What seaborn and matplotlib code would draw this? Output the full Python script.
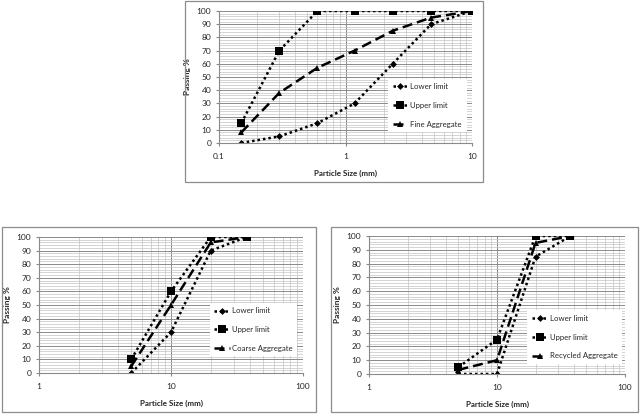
import numpy as np
import matplotlib
matplotlib.use("Agg")
import matplotlib.pyplot as plt
from matplotlib.patches import Rectangle
from matplotlib.ticker import MultipleLocator, LogLocator, NullFormatter, FixedLocator, FixedFormatter
import seaborn as sns

# ------------------------------------------------------------
# data
# ------------------------------------------------------------
fine_sizes = [0.15, 0.3, 0.6, 1.18, 2.36, 4.75, 10]
fine_lower = [0, 5, 15, 30, 60, 90, 100]
fine_upper = [15, 70, 100, 100, 100, 100, 100]
fine_agg = [8, 38, 57, 70, 85, 95, 100]

coarse_sizes = [5, 10, 20, 37.5]
coarse_lower = [0, 30, 90, 100]
coarse_upper = [10, 60, 100, 100]
coarse_agg = [5, 50, 96, 100]

rec_sizes = [5, 10, 20, 37.5]
rec_lower = [0, 0, 85, 100]
rec_upper = [5, 25, 100, 100]
rec_agg = [3, 10, 95, 100]

y_ticks = list(range(0, 101, 10))

sns.set_style("white")
plt.rcParams['font.family'] = ['Lato', 'DejaVu Sans']

W, H = 640, 415
fig = plt.figure(figsize=(W / 100, H / 100), dpi=100)


def px_axes(left, top, right, bottom):
    return fig.add_axes([left / W, 1 - bottom / H, (right - left) / W, (bottom - top) / H])


def frame(left, top, right, bottom):
    fig.add_artist(Rectangle((left / W, 1 - bottom / H), (right - left) / W, (bottom - top) / H,
                             transform=fig.transFigure, fill=False, edgecolor="#8c8c8c", lw=0.9))


def draw_panel(ax, sizes, lower, upper, agg, agg_label, xlim, xticks, legend_anchor):
    sns.lineplot(x=sizes, y=lower, ax=ax, color="black", linestyle=(0, (1, 1.2)), lw=1.8,
                 marker="D", markersize=3.5, markeredgewidth=0, label="Lower limit")
    sns.lineplot(x=sizes, y=upper, ax=ax, color="black", linestyle=(0, (1, 1.2)), lw=1.8,
                 marker="s", markersize=5.5, markeredgewidth=0, label="Upper limit")
    sns.lineplot(x=sizes, y=agg, ax=ax, color="black", linestyle=(0, (4, 2)), lw=1.8,
                 marker="^", markersize=5, markeredgewidth=0, label=agg_label)
    ax.set_xscale("log")
    ax.set_xlim(*xlim)
    ax.set_ylim(0, 100)
    ax.xaxis.set_major_locator(FixedLocator(xticks))
    ax.xaxis.set_major_formatter(FixedFormatter([f"{t:g}" for t in xticks]))
    ax.xaxis.set_minor_locator(LogLocator(base=10, subs=np.arange(2, 10)))
    ax.xaxis.set_minor_formatter(NullFormatter())
    ax.yaxis.set_major_locator(FixedLocator(y_ticks))
    ax.yaxis.set_minor_locator(MultipleLocator(2))
    ax.grid(which="major", color="#8a8a8a", lw=0.7)
    ax.grid(which="minor", color="#c4c4c4", lw=0.5)
    ax.set_axisbelow(True)
    for side in ["top", "right"]:
        ax.spines[side].set_visible(False)
    for side in ["left", "bottom"]:
        ax.spines[side].set_color("#8a8a8a")
        ax.spines[side].set_linewidth(0.8)
    ax.tick_params(axis="both", which="major", labelsize=6, length=2.5, color="#8a8a8a",
                   left=True, bottom=True, pad=3)
    ax.tick_params(axis="x", which="major", pad=5)
    ax.tick_params(axis="both", which="minor", length=0)
    ax.set_xlabel("Particle Size (mm)", fontsize=5.8, fontweight="bold", labelpad=7)
    ax.set_ylabel("Passing %", fontsize=6, fontweight="bold", labelpad=4)
    leg = ax.legend(loc="lower right", bbox_to_anchor=legend_anchor, fontsize=5.6,
                    frameon=True, fancybox=False, framealpha=1, edgecolor="white",
                    handlelength=2.0, labelspacing=1.5, numpoints=1, borderpad=0.6,
                    handletextpad=0.3, borderaxespad=0.2)
    leg.get_frame().set_linewidth(0)


# top panel - fine aggregate
frame(185, 1, 483, 182)
ax1 = px_axes(219, 11, 472, 143)
draw_panel(ax1, fine_sizes, fine_lower, fine_upper, fine_agg, "Fine Aggregate",
           (0.1, 10), [0.1, 1, 10], (0.985, 0.07))

# bottom left - coarse aggregate
frame(2, 227, 316, 412)
ax2 = px_axes(39, 237, 303, 373)
draw_panel(ax2, coarse_sizes, coarse_lower, coarse_upper, coarse_agg, "Coarse Aggregate",
           (1, 100), [1, 10, 100], (0.985, 0.11))

# bottom right - recycled aggregate
frame(331, 227, 638, 412)
ax3 = px_axes(369, 236, 625, 374)
draw_panel(ax3, rec_sizes, rec_lower, rec_upper, rec_agg, "Recycled Aggregate",
           (1, 100), [1, 10, 100], (0.995, 0.06))

fig.savefig("out.png", dpi=100)
